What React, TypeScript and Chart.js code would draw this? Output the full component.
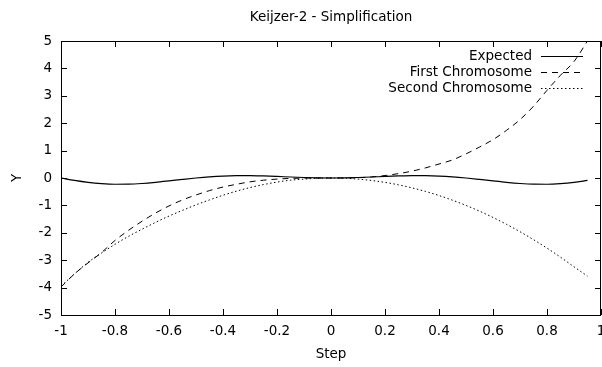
import React, { useEffect, useRef } from "react";
import { Chart, registerables } from "chart.js";

Chart.register(...registerables);

const titleText = "Keijzer-2 - Simplification";
const xTitle = "Step";
const yTitle = "Y";
const seriesNames = ["Expected", "First Chromosome", "Second Chromosome"];

const xValues = [
  -1.0, -0.95, -0.9, -0.85, -0.8, -0.75, -0.7, -0.65, -0.6, -0.55,
  -0.5, -0.45, -0.4, -0.35, -0.3, -0.25, -0.2, -0.15, -0.1, -0.05,
  0.0, 0.05, 0.1, 0.15, 0.2, 0.25, 0.3, 0.35, 0.4, 0.45,
  0.5, 0.55, 0.6, 0.65, 0.7, 0.75, 0.8, 0.85, 0.9, 0.95,
];

const expectedValues = [
  0.0, -0.088, -0.159, -0.206, -0.228, -0.225, -0.2, -0.158, -0.106, -0.051,
  0.0, 0.042, 0.071, 0.085, 0.086, 0.075, 0.057, 0.036, 0.018, 0.005,
  0.0, 0.005, 0.018, 0.036, 0.057, 0.075, 0.086, 0.085, 0.071, 0.042,
  0.0, -0.051, -0.106, -0.158, -0.2, -0.225, -0.228, -0.206, -0.159, -0.088,
];

const firstValues = [
  -3.98, -3.5, -3.1, -2.72, -2.28, -1.91, -1.58, -1.28, -1.02, -0.8,
  -0.62, -0.46, -0.33, -0.23, -0.14, -0.08, -0.04, -0.015, -0.005, 0.0,
  0.0, 0.002, 0.01, 0.04, 0.09, 0.16, 0.25, 0.37, 0.51, 0.66,
  0.88, 1.13, 1.4, 1.74, 2.13, 2.62, 3.2, 3.75, 4.25, 5.0,
];

const secondValues = [
  -3.95, -3.5, -3.08, -2.74, -2.42, -2.13, -1.87, -1.62, -1.39, -1.18,
  -0.98, -0.8, -0.63, -0.48, -0.35, -0.24, -0.15, -0.08, -0.04, -0.01,
  0.0, -0.01, -0.04, -0.09, -0.16, -0.25, -0.36, -0.49, -0.64, -0.81,
  -1.0, -1.21, -1.44, -1.69, -1.96, -2.25, -2.56, -2.89, -3.24, -3.58,
];

const dashStyles: number[][] = [[], [6, 5], [1.5, 2.5]];
const lineWidths = [1.2, 1, 1];
const FONT = "DejaVu Sans";
const FSIZE = 13.5;

const decorPlugin = {
  id: "decor",
  afterDraw(chart: any) {
    const ctx = chart.ctx;
    const { left, right, top, bottom } = chart.chartArea;
    const xs = chart.scales.x;
    const ys = chart.scales.y;
    ctx.save();
    ctx.strokeStyle = "#000";
    ctx.lineWidth = 1;
    ctx.setLineDash([]);
    ctx.strokeRect(Math.round(left) + 0.5, Math.round(top) + 0.5, Math.round(right - left) - 1, Math.round(bottom - top));
    const tl = 6;
    ctx.beginPath();
    xs.ticks.forEach((t: any) => {
      const px = Math.round(xs.getPixelForValue(t.value)) + 0.5;
      ctx.moveTo(px, bottom);
      ctx.lineTo(px, bottom - tl);
      ctx.moveTo(px, top);
      ctx.lineTo(px, top + tl);
    });
    ys.ticks.forEach((t: any) => {
      const py = Math.round(ys.getPixelForValue(t.value)) + 0.5;
      ctx.moveTo(left, py);
      ctx.lineTo(left + tl, py);
      ctx.moveTo(right, py);
      ctx.lineTo(right - tl, py);
    });
    ctx.stroke();

    ctx.fillStyle = "#000";
    ctx.font = `${FSIZE}px "${FONT}"`;
    ctx.textAlign = "center";
    ctx.textBaseline = "middle";
    ctx.fillText(titleText, (left + right) / 2, 17);

    const textRight = 532;
    const lineStart = 541;
    const lineEnd = 583;
    const rowY = [56, 72, 88];
    ctx.textAlign = "right";
    seriesNames.forEach((name, i) => {
      ctx.fillStyle = "#000";
      ctx.fillText(name, textRight, rowY[i]);
      ctx.beginPath();
      ctx.setLineDash(dashStyles[i]);
      ctx.lineWidth = lineWidths[i];
      ctx.moveTo(lineStart, rowY[i] + 0.5);
      ctx.lineTo(lineEnd, rowY[i] + 0.5);
      ctx.stroke();
    });
    ctx.restore();
  },
};

export default function App() {
  const ref = useRef<HTMLCanvasElement>(null);
  useEffect(() => {
    if (!ref.current) return;
    Chart.defaults.font.family = FONT;
    Chart.defaults.font.size = FSIZE;
    Chart.defaults.color = "#000";
    const mk = (vals: number[]) => xValues.map((x, i) => ({ x, y: vals[i] }));
    const allSeries = [expectedValues, firstValues, secondValues];
    const chart = new Chart(ref.current, {
      type: "line",
      data: {
        datasets: allSeries.map((vals, i) => ({
          label: seriesNames[i],
          data: mk(vals),
          borderColor: "#000",
          borderWidth: lineWidths[i],
          borderDash: dashStyles[i],
          pointRadius: 0,
          fill: false,
          cubicInterpolationMode: "monotone" as const,
        })),
      },
      options: {
        responsive: false,
        animation: false,
        layout: { padding: { left: 0, right: 19, top: 41, bottom: 0 } },
        plugins: { legend: { display: false }, title: { display: false }, tooltip: { enabled: false } },
        scales: {
          x: {
            type: "linear",
            min: -1,
            max: 1,
            grid: { display: false, drawTicks: false },
            border: { display: false },
            ticks: {
              stepSize: 0.2,
              padding: 8,
              maxRotation: 0,
              autoSkip: false,
              callback: (v: any) => String(Math.round(Number(v) * 10) / 10),
            },
            title: { display: true, text: xTitle, padding: { top: 0, bottom: 4 } },
            afterFit: (s: any) => {
              s.height = 52;
              s.paddingLeft = 0;
              s.paddingRight = 0;
            },
          },
          y: {
            type: "linear",
            min: -5,
            max: 5,
            grid: { display: false, drawTicks: false },
            border: { display: false },
            ticks: { stepSize: 1, padding: 9, callback: (v: any) => String(Math.round(Number(v))) },
            title: { display: true, text: yTitle, padding: { top: 9, bottom: 0 } },
            afterFit: (s: any) => {
              s.width = 61;
            },
          },
        },
      },
      plugins: [decorPlugin],
    });
    return () => chart.destroy();
  }, []);
  return (
    <div style={{ position: "fixed", left: 0, top: 0, width: 602, height: 367, overflow: "hidden", background: "#fff" }}>
      <canvas ref={ref} width={620} height={367} style={{ display: "block" }} />
    </div>
  );
}
